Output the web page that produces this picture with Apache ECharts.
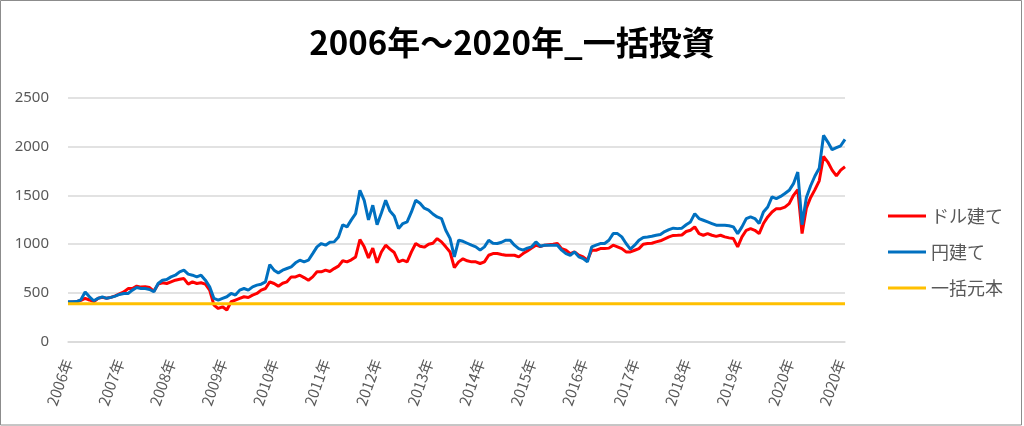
<!DOCTYPE html>
<html>
<head>
<meta charset="utf-8">
<script src="https://cdn.jsdelivr.net/npm/echarts@6/dist/echarts.min.js"></script>
<style>
html,body{margin:0;padding:0;background:#fff;}
#c{width:1024px;height:426px;}
</style>
</head>
<body>
<div id="c"></div>
<script>
// Tick labels shown on the category axis (one every 12 points)
const tickLabels = ['2006年','2007年','2008年','2009年','2010年','2011年','2012年','2013年','2014年','2015年','2016年','2017年','2018年','2019年','2020年','2020年'];
const pointsPerTick = 12;

// ドル建て (red)
const usdValues = [
  405,408,410,425,445,428,410,445,455,445,
  455,470,490,510,545,545,570,560,563,555,
  519,590,604,597,614,631,641,648,590,614,
  597,605,590,529,375,341,358,325,410,427,
  444,461,454,478,495,529,546,614,597,570,
  600,614,665,665,682,658,631,665,717,717,
  734,720,750,775,830,819,840,870,1048,973,
  860,960,810,920,990,950,915,819,836,819,
  921,1007,980,970,1000,1010,1058,1024,973,920,
  760,819,850,830,819,819,802,819,887,904,
  904,895,887,887,887,870,904,930,960,990,
  975,990,995,1000,1007,955,938,904,920,887,
  870,836,938,938,955,955,960,990,973,955,
  921,921,938,955,1000,1007,1010,1024,1035,1055,
  1075,1090,1092,1095,1130,1143,1178,1109,1092,1109,
  1092,1080,1092,1075,1065,1058,973,1075,1143,1160,
  1143,1109,1212,1280,1331,1365,1365,1380,1416,1502,
  1560,1110,1370,1480,1560,1650,1900,1843,1760,1700,
  1760,1795
];

// 円建て (blue)
const yenValues = [
  410,410,412,430,510,460,420,445,460,445,
  455,468,485,495,495,529,556,546,546,536,
  512,597,631,638,665,682,717,734,693,682,
  665,682,631,563,444,427,444,461,495,478,
  529,546,529,563,580,590,614,790,734,706,
  734,751,768,809,836,819,836,904,973,1007,
  990,1020,1024,1075,1200,1178,1250,1314,1553,1450,
  1250,1400,1200,1320,1450,1340,1290,1160,1212,1229,
  1331,1450,1420,1370,1350,1310,1280,1263,1143,1060,
  870,1041,1030,1010,990,973,939,973,1041,1010,
  1007,1020,1041,1041,990,955,939,960,973,1024,
  980,990,990,990,990,939,904,887,921,870,
  853,819,973,990,1007,1007,1041,1109,1109,1075,
  1007,950,990,1041,1070,1075,1082,1092,1100,1130,
  1150,1165,1160,1165,1200,1229,1314,1263,1246,1229,
  1212,1195,1195,1195,1190,1178,1109,1178,1263,1280,
  1263,1212,1331,1382,1485,1468,1490,1520,1553,1621,
  1740,1200,1480,1600,1700,1780,2116,2048,1970,1990,
  2010,2075
];

// 一括元本 (yellow, constant principal)
const principal = 390;

const seriesNames = ['ドル建て','円建て','一括元本'];
const categories = yenValues.map((_, i) => 'P' + i);
const principalValues = categories.map(() => principal);

const chart = echarts.init(document.getElementById('c'), null, {renderer: 'canvas'});
const labelColor = '#595959';
chart.setOption({
  animation: false,
  backgroundColor: '#fff',
  title: {
    text: '2006年～2020年_一括投資',
    left: 'center',
    top: 21,
    textStyle: {fontFamily: 'Noto Sans CJK JP', fontWeight: 'bold', fontSize: 33, color: '#000'}
  },
  graphic: [{
    type: 'rect', silent: true,
    shape: {x: 0.5, y: 0.5, width: 1021, height: 424.5},
    style: {fill: 'none', stroke: '#8c8c8c', lineWidth: 1}
  }],
  legend: {
    orient: 'vertical',
    left: 883,
    top: 202,
    itemWidth: 38,
    itemHeight: 3,
    itemGap: 18,
    icon: 'rect',
    data: seriesNames,
    textStyle: {fontFamily: 'Noto Sans CJK JP', fontSize: 18, color: labelColor, lineHeight: 18}
  },
  grid: {left: 68, right: 179, top: 98, bottom: 84.3},
  xAxis: {
    type: 'category',
    data: categories,
    boundaryGap: false,
    axisLine: {show: true, lineStyle: {color: '#d9d9d9', width: 1.5}},
    axisTick: {show: false},
    axisLabel: {
      interval: (idx) => idx % pointsPerTick === 0,
      rotate: 70,
      margin: 18,
      hideOverlap: false,
      color: labelColor,
      fontFamily: 'Noto Sans CJK JP',
      fontSize: 15,
      formatter: (v, idx) => (idx % pointsPerTick === 0 ? (tickLabels[idx / pointsPerTick] || '') : '')
    },
    splitLine: {show: false}
  },
  yAxis: {
    type: 'value',
    min: 0, max: 2500, interval: 500,
    axisLine: {show: false},
    axisTick: {show: false},
    axisLabel: {color: labelColor, fontFamily: 'Noto Sans', fontSize: 15, margin: 19, formatter: (v) => String(v)},
    splitLine: {lineStyle: {color: '#d9d9d9', width: 1.5}}
  },
  series: [
    {name: seriesNames[0], type: 'line', data: usdValues, showSymbol: false, symbol: 'none',
     lineStyle: {color: '#FF0000', width: 3}, itemStyle: {color: '#FF0000'}, z: 2},
    {name: seriesNames[1], type: 'line', data: yenValues, showSymbol: false, symbol: 'none',
     lineStyle: {color: '#0070C0', width: 3}, itemStyle: {color: '#0070C0'}, z: 3},
    {name: seriesNames[2], type: 'line', data: principalValues, showSymbol: false, symbol: 'none',
     lineStyle: {color: '#FFC000', width: 3}, itemStyle: {color: '#FFC000'}, z: 4}
  ]
});
</script>
</body>
</html>
